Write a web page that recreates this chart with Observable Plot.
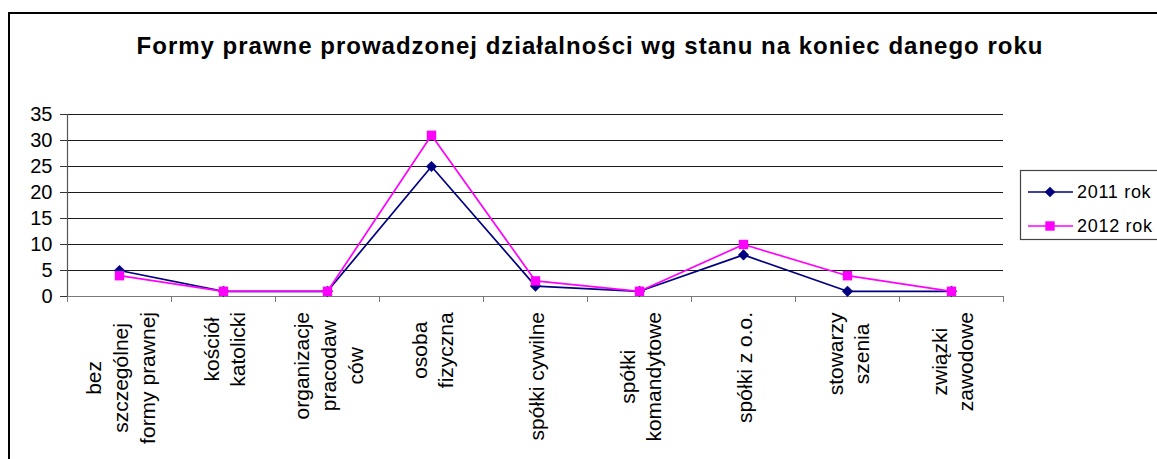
<!DOCTYPE html>
<html>
<head>
<meta charset="utf-8">
<script src="https://cdn.jsdelivr.net/npm/d3@7"></script>
<script src="https://cdn.jsdelivr.net/npm/@observablehq/plot@0.6"></script>
<style>
  html, body { margin: 0; padding: 0; background: #fff; overflow: hidden; width: 1157px; height: 459px; }
  body { position: relative; font-family: "Liberation Sans", Arial, sans-serif; }
  #frame { position: absolute; left: 8px; top: 12px; width: 2000px; height: 1000px; border: 2px solid #000; box-sizing: border-box; }
  #title { position: absolute; left: 0; top: 34px; width: 1180px; text-align: center; font-weight: bold; font-size: 24px; letter-spacing: 1px; line-height: 23px; color: #000; white-space: nowrap; }
  #chart { position: absolute; left: 0; top: 0; }
  #legend { position: absolute; left: 0; top: 0; pointer-events: none; }
</style>
</head>
<body>
<div id="frame"></div>
<div id="chart"></div>
<div id="title">Formy prawne prowadzonej działalności wg stanu na koniec danego roku</div>
<svg id="legend" width="1157" height="459"></svg>
<script>
const categories = [
  "bez\nszczególnej\nformy prawnej",
  "kościół\nkatolicki",
  "organizacje\npracodaw\nców",
  "osoba\nfizyczna",
  "spółki cywilne",
  "spółki\nkomandytowe",
  "spółki z o.o.",
  "stowarzy\nszenia",
  "związki\nzawodowe"
];
const series = ["2011 rok", "2012 rok"];
const values2011 = [5, 1, 1, 25, 2, 1, 8, 1, 1];
const values2012 = [4, 1, 1, 31, 3, 1, 10, 4, 1];
const yTicks = [0, 5, 10, 15, 20, 25, 30, 35];

const navy = "#000080";
const magenta = "#ff00ff";

const d2011 = categories.map((c, i) => ({i, v: values2011[i]}));
const d2012 = categories.map((c, i) => ({i, v: values2012[i]}));
const labels = categories.map((c, i) => ({i, c}));
const boundaries = categories.map((c, i) => i - 0.5).concat([categories.length - 0.5]);

const plot = Plot.plot({
  width: 1157,
  height: 459,
  marginLeft: 67,
  marginRight: 154,
  marginTop: 114,
  marginBottom: 163,
  style: {fontFamily: "'Liberation Sans', Arial, sans-serif", fontSize: "20px", color: "#000", background: "transparent", overflow: "visible"},
  x: {type: "linear", domain: [-0.5, categories.length - 0.5], axis: null},
  y: {domain: [0, 35], axis: null},
  marks: [
    Plot.gridY(yTicks.filter(t => t > 0), {stroke: "#1a1a1a", strokeOpacity: 1, strokeWidth: 1}),
    Plot.ruleY([0], {stroke: "#7a7a7a", strokeWidth: 1.2}),
    Plot.ruleX([-0.5], {stroke: "#555", strokeWidth: 1.2}),
    Plot.axisY({ticks: yTicks, tickSize: 7, tickPadding: 8, label: null, stroke: "#333", fontSize: 20}),
    Plot.axisX({ticks: boundaries, tickFormat: () => "", tickSize: 6, tickPadding: 0, label: null, stroke: "#7a7a7a"}),
    Plot.text(labels, {x: "i", y: 0, text: "c", rotate: -90, textAnchor: "middle", lineAnchor: "middle", lineHeight: 1.27, fontSize: 21, fill: "#000", className: "catlabels"}),
    Plot.line(d2011, {x: "i", y: "v", stroke: navy, strokeWidth: 1.7}),
    Plot.dot(d2011, {x: "i", y: "v", symbol: "diamond2", r: 4.8, fill: navy, stroke: navy, strokeWidth: 0.5}),
    Plot.line(d2012, {x: "i", y: "v", stroke: magenta, strokeWidth: 1.7}),
    Plot.dot(d2012, {x: "i", y: "v", symbol: "square", r: 5.3, fill: magenta, stroke: "none"})
  ]
});
document.getElementById("chart").appendChild(plot);

// place category labels: top of each label block just below the axis ticks
const topY = 312;
plot.querySelectorAll(".catlabels text").forEach(t => {
  const r = t.getBoundingClientRect();
  const delta = topY - r.top;
  const tr = t.getAttribute("transform") || "";
  t.setAttribute("transform", `translate(0,${delta}) ` + tr);
});

// legend
const lg = d3.select("#legend");
lg.append("rect").attr("x", 1020.5).attr("y", 170.5).attr("width", 200).attr("height", 69)
  .attr("fill", "#fff").attr("stroke", "#444").attr("stroke-width", 1.2);
const legendItems = [
  {name: series[0], color: navy, sym: d3.symbolDiamond2, size: Math.PI * 4.8 * 4.8, y: 192},
  {name: series[1], color: magenta, sym: d3.symbolSquare, size: Math.PI * 5.3 * 5.3, y: 226}
];
legendItems.forEach(it => {
  lg.append("line").attr("x1", 1028).attr("x2", 1073).attr("y1", it.y).attr("y2", it.y)
    .attr("stroke", it.color).attr("stroke-width", 1.7);
  lg.append("path").attr("d", d3.symbol(it.sym, it.size)()).attr("transform", `translate(1050,${it.y})`)
    .attr("fill", it.color);
  lg.append("text").attr("x", 1077).attr("y", it.y + 5.5).text(it.name)
    .attr("font-family", "'Liberation Sans', Arial, sans-serif").attr("font-size", 18)
    .attr("letter-spacing", "0.7px").attr("fill", "#000");
});
</script>
</body>
</html>
